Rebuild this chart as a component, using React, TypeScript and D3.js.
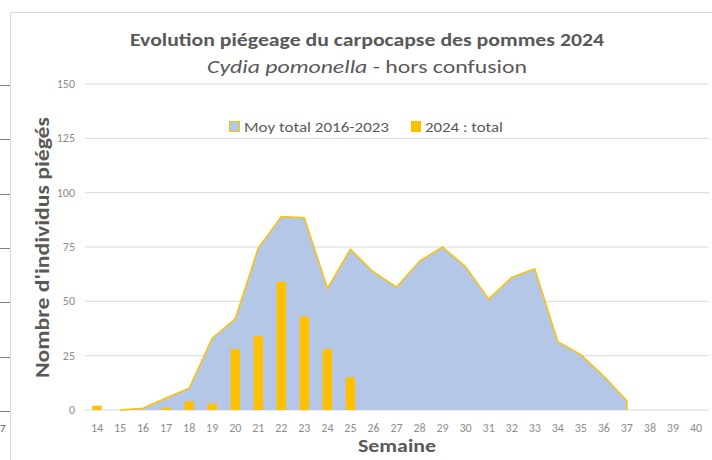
import * as d3 from 'd3'

// weeks on the x axis
const weeks = d3.range(14, 41).map(String)

// 2016-2023 average (weeks 15..37)
const avgWeeks = ['15','16','17','18','19','20','21','22','23','24','25','26','27','28','29','30','31','32','33','34','35','36','37']
const avgValues = [0, 0.8, 5.5, 10, 33, 42, 74.5, 89, 88.5, 56, 74, 63.5, 56.5, 68.5, 75, 66, 51, 61, 65, 31.5, 25.5, 15.5, 4.3]

// 2024 totals
const yearWeeks = ['14','17','18','19','20','21','22','23','24','25']
const yearValues = [2, 1, 4, 3, 28, 34, 59, 43, 28, 15]

const yTicks = [0, 25, 50, 75, 100, 125, 150]

const W = 712
const H = 460
const FONT = "Carlito, 'Open Sans', sans-serif"
const BLUE = '#B4C7E7'
const ORANGE = '#FFC000'
const GRID = '#D9D9D9'
const TEXT = '#595959'

export default function App() {
  const x = d3.scaleBand<string>().domain(weeks).range([85.5, 707.5]).padding(0)
  const y = d3.scaleLinear().domain([0, 150]).range([410, 84])
  const bw = x.bandwidth()
  const cx = (w: string) => (x(w) ?? 0) + bw / 2

  const avg = avgWeeks.map((w, i) => ({ w, v: avgValues[i] }))
  const area = d3.area<{ w: string; v: number }>()
    .x(d => cx(d.w))
    .y0(y(0))
    .y1(d => y(d.v))
  const line = d3.line<{ w: string; v: number }>()
    .x(d => cx(d.w))
    .y(d => y(d.v))
  const last = avg[avg.length - 1]
  const outline = line([...avg, { w: last.w, v: 0 }]) || ''

  const barW = bw * 0.41

  return (
    <svg width={W} height={H} style={{ position: 'absolute', left: 0, top: 0, background: '#fff' }} fontFamily={FONT}>
      {/* frame remnants at the edge of the screenshot */}
      <line x1={10} x2={W} y1={12.5} y2={12.5} stroke={GRID} />
      <line x1={10.5} x2={10.5} y1={12} y2={H} stroke={GRID} />
      {yTicks.map(t => (
        <line key={'o' + t} x1={0} x2={10} y1={Math.round(y(t)) + 1.5} y2={Math.round(y(t)) + 1.5} stroke="#7f7f7f" />
      ))}
      <text x={0} y={432} fontSize={11} fill={TEXT}>7</text>

      {/* gridlines */}
      {yTicks.map(t => (
        <line key={t} x1={85} x2={709} y1={y(t)} y2={y(t)} stroke={GRID} strokeWidth={1} />
      ))}
      {yTicks.map(t => (
        <text key={'l' + t} x={75} y={y(t) + 4} textAnchor="end" fontSize={12} fill="#8c8c8c">{t}</text>
      ))}

      <path d={area(avg) || ''} fill={BLUE} />
      <path d={outline} fill="none" stroke={ORANGE} strokeWidth={1.5} strokeLinejoin="round" />

      {yearWeeks.map((w, i) => (
        <rect key={w} x={cx(w) - barW / 2} y={y(yearValues[i])} width={barW} height={y(0) - y(yearValues[i])} fill={ORANGE} />
      ))}

      {weeks.map(w => (
        <text key={w} x={cx(w)} y={432} textAnchor="middle" fontSize={12} fill="#8c8c8c">{w}</text>
      ))}

      {/* titles */}
      <text x={367} y={46} textAnchor="middle" fontSize={19} fontWeight="bold" fill={TEXT} textLength={474} lengthAdjust="spacingAndGlyphs">
        Evolution piégeage du carpocapse des pommes 2024
      </text>
      <text x={367} y={73} textAnchor="middle" fontSize={19} fill={TEXT} textLength={320} lengthAdjust="spacingAndGlyphs">
        <tspan fontStyle="italic">Cydia pomonella</tspan> - hors confusion
      </text>

      {/* legend */}
      <rect x={229.5} y={121.5} width={10} height={10} fill={BLUE} stroke={ORANGE} strokeWidth={1} />
      <text x={244} y={132} fontSize={14} fill={TEXT} textLength={145} lengthAdjust="spacingAndGlyphs">Moy total 2016-2023</text>
      <rect x={411} y={121} width={10} height={11} fill={ORANGE} />
      <text x={425} y={132} fontSize={14} fill={TEXT} textLength={78} lengthAdjust="spacingAndGlyphs">2024 : total</text>

      {/* axis titles */}
      <text transform="translate(49,247.5) rotate(-90)" textAnchor="middle" fontSize={20} fontWeight="bold" fill={TEXT} textLength={261} lengthAdjust="spacingAndGlyphs">
        Nombre d'individus piégés
      </text>
      <text x={397} y={452} textAnchor="middle" fontSize={19} fontWeight="bold" fill={TEXT} textLength={78} lengthAdjust="spacingAndGlyphs">
        Semaine
      </text>
    </svg>
  )
}
